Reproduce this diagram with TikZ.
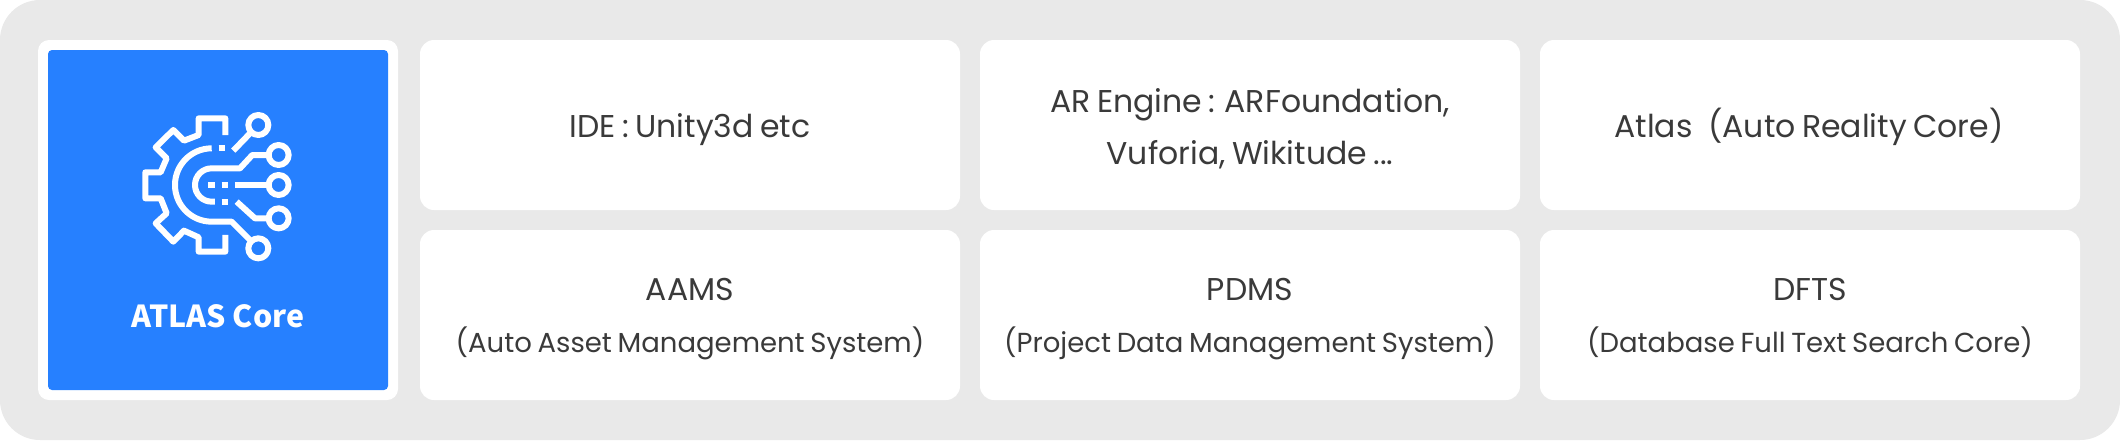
\documentclass[tikz,border=0pt]{standalone}
\usepackage{fontspec}
\setmainfont[WordSpace=0.78]{Poppins}
\newfontfamily\labelfont{Noto Sans CJK KR}
\definecolor{panelgrey}{HTML}{E9E9E9}
\definecolor{coreblue}{HTML}{2680FF}
\definecolor{inktext}{HTML}{3A3A3A}
\tikzset{
  cell/.style={fill=white,rounded corners=14pt,minimum width=540pt,minimum height=170pt,inner sep=0pt},
  headtext/.style={anchor=base,inner sep=0pt,text=inktext,font=\fontsize{31.5}{40}\selectfont},
  subtext/.style={anchor=base,inner sep=0pt,text=inktext,font=\fontsize{27.5}{36}\selectfont},
  icon/.style={draw=white,line width=6pt,line join=round,line cap=butt,fill=none},
}
\begin{document}
\begin{tikzpicture}[x=1pt,y=-1pt]
\useasboundingbox (0,0) rectangle (2120,440);
\fill[white] (0,0) rectangle (2120,440);
\node[fill=panelgrey,rounded corners=40pt,minimum width=2120pt,minimum height=440pt,inner sep=0pt] (panel) at (1060,220) {};
\node[fill=white,rounded corners=11pt,minimum width=360pt,minimum height=360pt,inner sep=0pt] (coreframe) at (218,220) {};
\node[fill=coreblue,rounded corners=4pt,minimum width=340pt,minimum height=340pt,inner sep=0pt] (corebox) at (218,220) {};
\node[anchor=base,text=white,font=\labelfont\bfseries\fontsize{30.3}{36}\selectfont,inner sep=0pt] (corelabel) at (218,327) {ATLAS Core};
% boxes
\node[cell] (ide) at (690,125) {};
\node[cell] (ar) at (1250,125) {};
\node[cell] (atlas) at (1810,125) {};
\node[cell] (aams) at (690,315) {};
\node[cell] (pdms) at (1250,315) {};
\node[cell] (dfts) at (1810,315) {};
% texts
\node[headtext] (idetext) at (690,137) {IDE : Unity3d etc};
\node[headtext] (artext) at (1250,112) {AR Engine : ARFoundation,};
\node[headtext] (artexttwo) at (1250,164) {Vuforia, Wikitude ...};
\node[headtext] (atlastext) at (1809,137) {Atlas\hspace{0.5em}(Auto Reality Core)};
\node[headtext] (aamstext) at (690,300) {AAMS};
\node[subtext] (aamssub) at (690,352) {(Auto Asset Management System)};
\node[headtext] (pdmstext) at (1250,300) {PDMS};
\node[subtext] (pdmssub) at (1250,352) {(Project Data Management System)};
\node[headtext] (dftstext) at (1810,300) {DFTS};
\node[subtext] (dftssub) at (1810,352) {(Database Full Text Search Core)};
% icon
\begin{scope}[shift={(120,100)},x=0.3333pt,y=-0.3333pt]
\draw[icon] (316,105) -- (316,55) -- (236,55) -- (236,105) -- (192,122) -- (160,90) -- (107,142) -- (140,175) -- (122,217) -- (76,217) -- (76,295) -- (122,295) -- (140,340) -- (107,370) -- (160,425) -- (192,392) -- (236,412) -- (236,455) -- (316,455) -- (316,405);
\draw[icon] (275,145) arc[start angle=90,end angle=270,x radius=110,y radius=-110] -- (335,365) -- (400,430);
\draw[icon] (296,145) -- (316,145);
\draw[icon] (340,152) -- (393,97);
\draw[icon] (285,305) -- (275,305) arc[start angle=270,end angle=90,x radius=50,y radius=-50] -- (360,205) -- (397,165) -- (445,165);
\draw[icon] (265,255) -- (285,255);
\draw[icon] (305,255) -- (325,255);
\draw[icon] (345,255) -- (445,255);
\draw[icon] (305,305) -- (325,305);
\draw[icon] (350,305) -- (405,355) -- (445,355);
\foreach \cx/\cy in {415/75,476/165,476/255,476/355,415/445}
  \draw[icon] (\cx,\cy) circle[radius=30];
\end{scope}
\end{tikzpicture}
\end{document}
